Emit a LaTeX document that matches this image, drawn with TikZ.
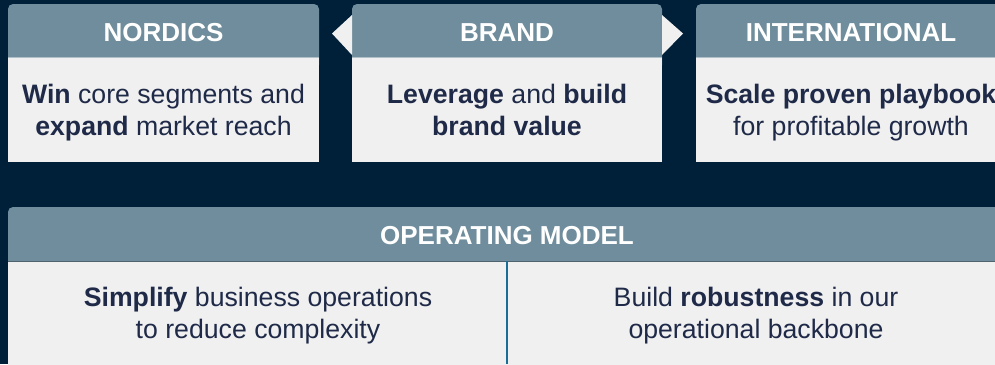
\documentclass[tikz,border=0pt]{standalone}
\usepackage{fontspec}
\setmainfont{Liberation Sans}
\definecolor{navy}{HTML}{001F38}
\definecolor{slate}{HTML}{6F8D9C}
\definecolor{paper}{HTML}{F0F0F0}
\definecolor{ink}{HTML}{1F2A48}
\definecolor{rule}{HTML}{1A6E96}
\tikzset{
  head/.style={fill=slate, rounded corners=3.75pt},
  body/.style={fill=paper},
  seam/.style={draw=#1, line width=0.75pt},
  title/.style={text=white, inner sep=0pt, font=\bfseries\fontsize{19.5}{24}\selectfont},
  blurb/.style={text=ink, inner sep=0pt, align=center, font=\fontsize{20}{24}\selectfont},
}
\begin{document}
\begin{tikzpicture}[x=0.75pt, y=-0.75pt]
\fill[navy] (0,0) rectangle (995,364);
\clip (0,0) rectangle (995,364);

% three pillars on top
\fill[head] (8,4) rectangle (319,70);
\fill[body] (8,57) rectangle (319,162);
\draw[seam=slate!55!white] (8,57) -- (319,57);
\node[title] (nordics) at (163.5,32.5) {NORDICS};
\node[blurb] (win) at (163.5,112.5) {\textbf{Win} core segments and\\\textbf{expand} market reach};

\fill[head] (352,4) rectangle (662,70);
\fill[body] (352,57) rectangle (662,162);
\draw[seam=slate!55!white] (352,57) -- (662,57);
\node[title] (brand) at (507,32.5) {BRAND};
\node[blurb] (leverage) at (507,109.7) {\textbf{Leverage} and \textbf{build}\\\textbf{brand value}};
% arrow heads either side of the brand pillar
\fill[paper] (352,15) -- (332,33.5) -- (352,55) -- cycle;
\fill[paper] (662,15) -- (683,33.5) -- (662,55) -- cycle;

\fill[head] (696,4) rectangle (1006,70);
\fill[body] (696,57) rectangle (1006,162);
\draw[seam=slate!55!white] (696,57) -- (1006,57);
\node[title] (intl) at (851,32.5) {INTERNATIONAL};
\node[blurb] (scale) at (851,112.5) {\textbf{Scale proven playbook}\\for profitable growth};

% operating model underneath
\fill[head] (8,207) rectangle (1006,275);
\fill[body] (8,261) rectangle (1006,380);
\draw[seam=slate!70!black] (8,261) -- (1006,261);
\node[title] (opmodel) at (507,235.5) {OPERATING MODEL};
\draw[rule, line width=1.5pt] (507,261) coordinate (split) -- (507,364);
\node[blurb] (simplify) at (258,316) {\textbf{Simplify} business operations\\to reduce complexity};
\node[blurb] (robust) at (756,316) {Build \textbf{robustness} in our\\operational backbone};
\end{tikzpicture}
\end{document}
